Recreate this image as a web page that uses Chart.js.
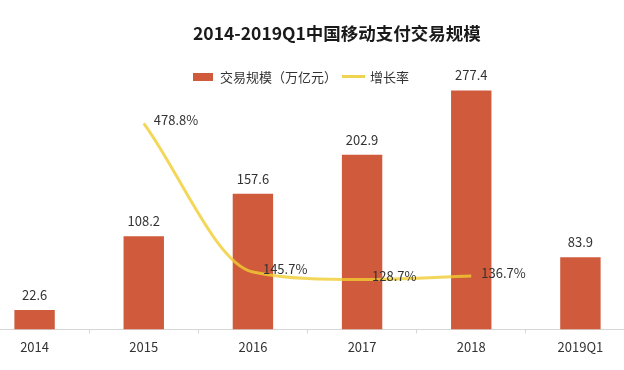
<!DOCTYPE html>
<html>
<head>
<meta charset="utf-8">
<title>2014-2019Q1中国移动支付交易规模</title>
<script src="https://cdn.jsdelivr.net/npm/chart.js@4.4.1/dist/chart.umd.min.js"></script>
<style>
  body { margin: 0; background: #fff; }
  #wrap { position: relative; width: 624px; height: 370px; overflow: hidden; font-family: "Noto Sans CJK SC", sans-serif; }
  #chart { position: absolute; left: -20px; top: 0; }
  .title { position: absolute; left: 193px; top: 22px; font-size: 17.5px; font-weight: bold; line-height: 22px; color: #1a1a1a; white-space: nowrap; }
  .legend { position: absolute; top: 68px; height: 18px; line-height: 18px; font-size: 13px; color: #333; white-space: nowrap; }
  .swatch { position: absolute; }
</style>
</head>
<body>
<div id="wrap">
  <canvas id="chart" width="655" height="370"></canvas>
  <div class="title">2014-2019Q1中国移动支付交易规模</div>
  <div class="swatch" style="left:193px;top:73px;width:20px;height:8px;background:#cf5a3c"></div>
  <div class="legend" style="left:220px">交易规模（万亿元）</div>
  <div class="swatch" style="left:342px;top:75px;width:23px;height:3px;background:#efd452"></div>
  <div class="legend" style="left:370px">增长率</div>
</div>
<script>
const years = ["2014", "2015", "2016", "2017", "2018", "2019Q1"];
const volume = [22.6, 108.2, 157.6, 202.9, 277.4, 83.9];      // 万亿元
const growth = [null, 478.8, 145.7, 128.7, 136.7, null];       // %

const barColor = "#cf5a3c";
const lineColor = "rgba(240, 205, 50, 0.8)";

// value labels above bars and next to the growth points
const valueLabels = {
  id: "valueLabels",
  afterDatasetsDraw(chart) {
    const ctx = chart.ctx;
    ctx.save();
    ctx.font = "13px 'Noto Sans CJK SC', sans-serif";
    ctx.fillStyle = "#333";
    ctx.textBaseline = "middle";

    ctx.textAlign = "center";
    chart.getDatasetMeta(0).data.forEach((bar, i) => {
      ctx.fillText(volume[i].toFixed(1), bar.x, bar.y - 15);
    });

    ctx.textAlign = "left";
    chart.getDatasetMeta(1).data.forEach((pt, i) => {
      if (growth[i] == null) return;
      ctx.fillText(growth[i].toFixed(1) + "%", pt.x + 10, pt.y - 3);
    });
    ctx.restore();
  },
};

new Chart(document.getElementById("chart"), {
  data: {
    labels: years,
    datasets: [
      {
        type: "bar",
        label: "交易规模（万亿元）",
        data: volume,
        backgroundColor: barColor,
        categoryPercentage: 0.37,
        barPercentage: 1,
        yAxisID: "y",
        order: 2,
      },
      {
        type: "line",
        label: "增长率",
        data: growth,
        borderColor: lineColor,
        borderWidth: 3,
        pointRadius: 0,
        cubicInterpolationMode: "monotone",
        spanGaps: true,
        yAxisID: "y2",
        order: 1,
      },
    ],
  },
  options: {
    responsive: false,
    animation: false,
    layout: { padding: { top: 71, bottom: 9, left: 0, right: 0 } },
    plugins: {
      legend: { display: false },
      tooltip: { enabled: false },
    },
    scales: {
      x: {
        grid: { drawOnChartArea: false, tickLength: 4, color: "#d6d6d6" },
        border: { color: "#d6d6d6" },
        ticks: { padding: 6, color: "#333", font: { size: 13, family: "'Noto Sans CJK SC', sans-serif" } },
      },
      y: { display: false, min: 0, max: 300 },
      y2: { display: false, min: 17, max: 596 },
    },
  },
  plugins: [valueLabels],
});
</script>
</body>
</html>
